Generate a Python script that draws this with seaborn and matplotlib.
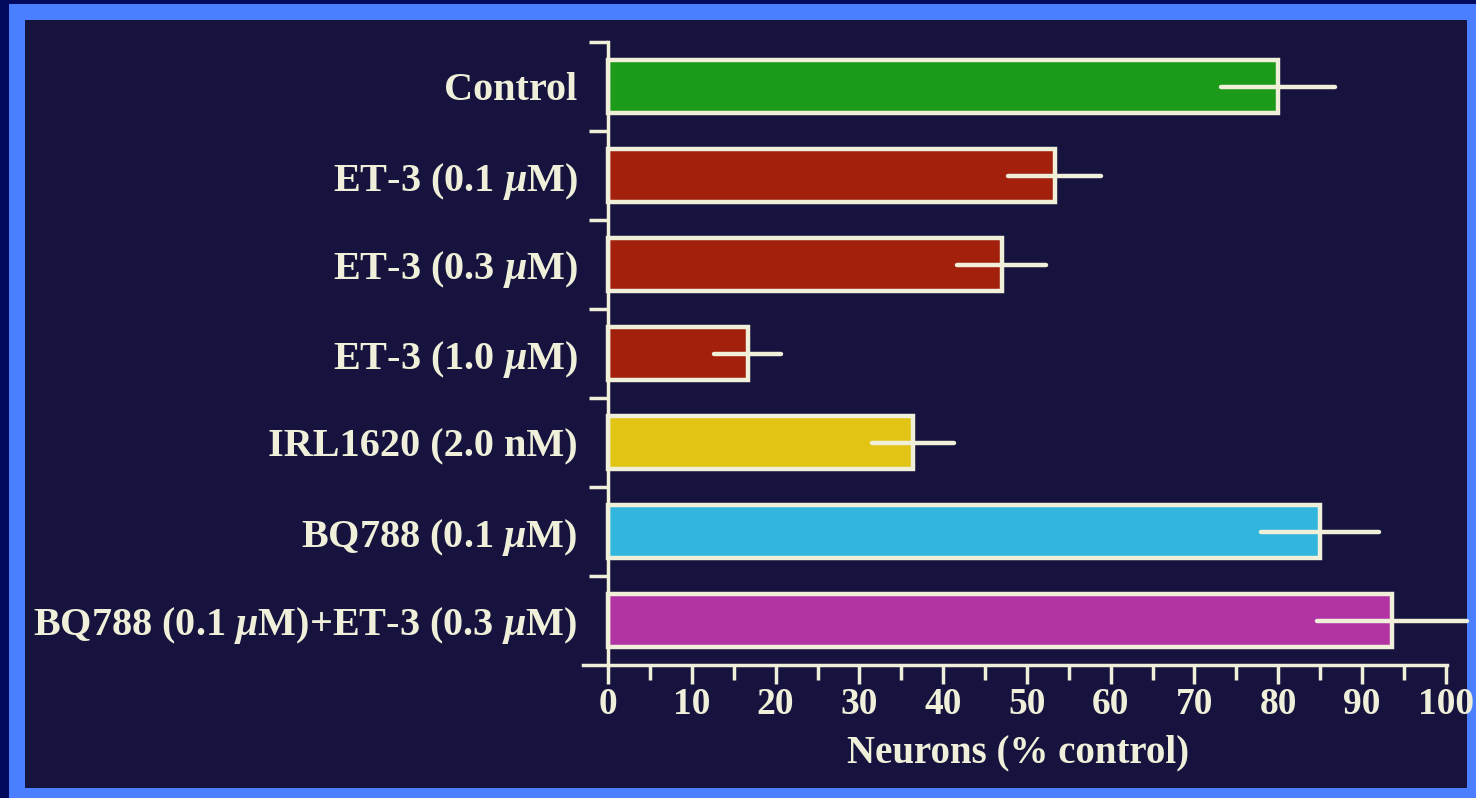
import seaborn as sns
import matplotlib.pyplot as plt
import matplotlib.patches as mpatches
import pandas as pd
import numpy as np

# datos
grupos = ["Control", "ET-3 (0.1 $\\mu$M)", "ET-3 (0.3 $\\mu$M)", "ET-3 (1.0 $\\mu$M)",
          "IRL1620 (2.0 nM)", "BQ788 (0.1 $\\mu$M)", "BQ788 (0.1 $\\mu$M)+ET-3 (0.3 $\\mu$M)"]
neuronas = [80, 53.3, 47, 16.7, 36.4, 85, 93.6]
errores = [6.8, 5.5, 5.3, 4.0, 4.9, 7.0, 9.0]
colores = ["#1c9a1a", "#a3200c", "#a3200c", "#a3200c", "#e2c414", "#32b6de", "#b234a4"]

crema = "#efefda"
fondo = "#16143e"

datos = pd.DataFrame({"grupo": grupos, "neuronas": neuronas})

sns.set_style("ticks")
plt.rcParams["font.family"] = ["Liberation Serif", "DejaVu Serif"]
plt.rcParams["mathtext.fontset"] = "custom"
plt.rcParams["mathtext.it"] = "Liberation Serif:italic:bold"
plt.rcParams["mathtext.rm"] = "Liberation Serif:bold"

fig = plt.figure(figsize=(14.76, 7.98), dpi=100)
fig.patch.set_facecolor("#4a80ff")
# marco del slide
fig.patches.append(mpatches.Rectangle((0, 0), 9/1476, 1, transform=fig.transFigure,
                                      facecolor="#020a5e", edgecolor="none", zorder=-2))
fig.patches.append(mpatches.Rectangle((0, 1-4/798), 1, 4/798, transform=fig.transFigure,
                                      facecolor="#020a5e", edgecolor="none", zorder=-2))
fig.patches.append(mpatches.Rectangle((25/1476, 10/798), (1467-25)/1476, (778-10)/798,
                                      transform=fig.transFigure, facecolor=fondo,
                                      edgecolor="none", zorder=-1))

ax = fig.add_axes([583/1476, 1-665/798, (1454-583)/1476, (665-42)/798])
ax.set_facecolor("none")

sns.barplot(data=datos, x="neuronas", y="grupo", hue="grupo", palette=colores,
            orient="h", width=0.6, edgecolor=crema, linewidth=3.2, legend=False,
            saturation=1, ax=ax)

for i in range(len(grupos)):
    ax.plot([neuronas[i]-errores[i], neuronas[i]+errores[i]], [i, i], color=crema,
            lw=3.2, solid_capstyle="round", clip_on=False, zorder=5)

ax.set_xlim(-3, 101)
ax.set_ylim(6.5, -0.5)

for s in ["top", "right"]:
    ax.spines[s].set_visible(False)
ax.spines["left"].set_position(("data", 0))
ax.spines["bottom"].set_bounds(-3, 100.2)
ax.spines["left"].set_color(crema)
ax.spines["bottom"].set_color(crema)
ax.spines["left"].set_linewidth(2.5)
ax.spines["bottom"].set_linewidth(2.5)

ax.set_xticks(np.arange(0, 101, 10))
ax.set_xticks(np.arange(5, 100, 10), minor=True)
ax.tick_params(axis="x", which="both", bottom=True, direction="out")
ax.tick_params(axis="x", which="major", length=14, width=2.5, color=crema, labelcolor=crema,
               labelsize=27, pad=2)
ax.tick_params(axis="x", which="minor", length=10.5, width=2.5, color=crema)
ax.set_yticks(np.arange(len(grupos)))
ax.set_yticklabels(grupos)
ax.set_yticks(np.arange(-0.5, 6.0, 1), minor=True)
ax.tick_params(axis="y", which="both", left=True, direction="out")
ax.tick_params(axis="y", which="major", length=0, labelsize=29, labelcolor=crema, pad=22)
ax.tick_params(axis="y", which="minor", length=14, width=2.5, color=crema)
for t in ax.get_xticklabels() + ax.get_yticklabels():
    t.set_fontweight("bold")

ax.set_ylabel("")
ax.set_xlabel("Neurons (% control)", fontsize=28, fontweight="bold", color=crema, labelpad=9)

plt.savefig("out.png", dpi=100, facecolor=fig.get_facecolor())
